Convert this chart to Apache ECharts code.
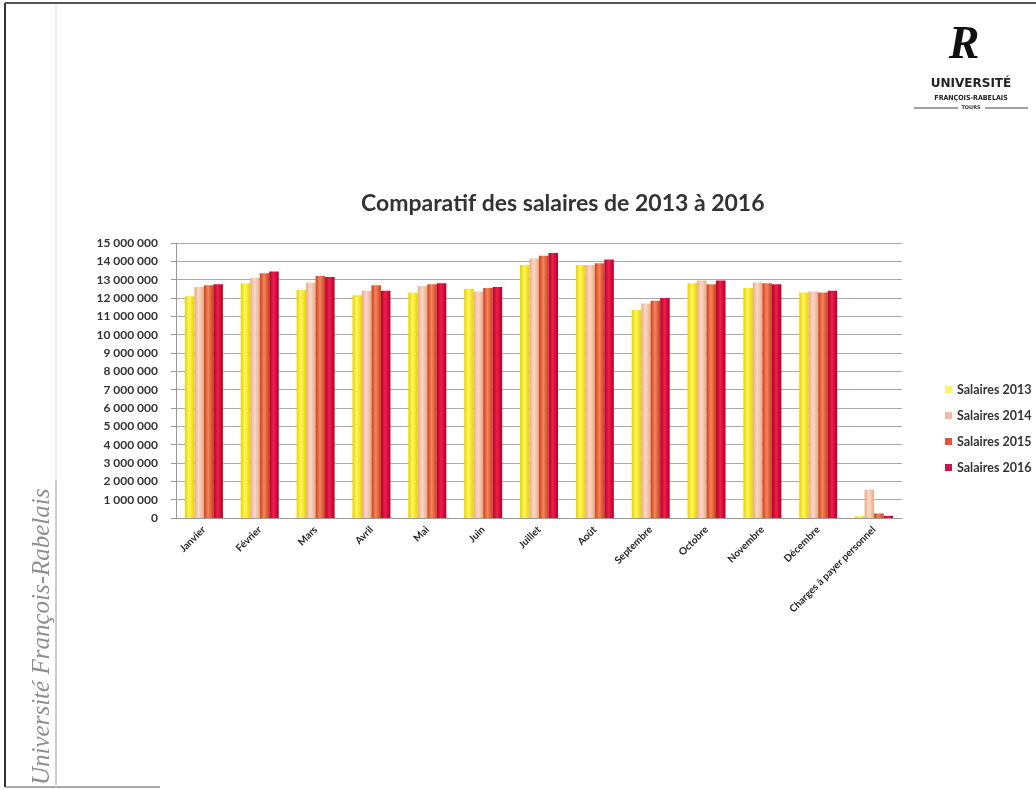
<!DOCTYPE html>
<html>
<head>
<meta charset="utf-8">
<script src="https://cdn.jsdelivr.net/npm/echarts@6/dist/echarts.min.js"></script>
<style>
html,body{margin:0;padding:0;background:#fff;}
#chart{width:1036px;height:790px;}
</style>
</head>
<body>
<div id="chart"></div>
<script>
const categories = ["Janvier","Février","Mars","Avril","Mai","Juin","Juillet","Août","Septembre","Octobre","Novembre","Décembre","Charges à payer personnel"];
const salaires2013 = [12100000,12800000,12450000,12150000,12300000,12500000,13800000,13800000,11350000,12800000,12550000,12300000,100000];
const salaires2014 = [12600000,13100000,12850000,12400000,12650000,12350000,14150000,13800000,11700000,12950000,12850000,12350000,1550000];
const salaires2015 = [12700000,13350000,13200000,12700000,12750000,12550000,14300000,13900000,11850000,12750000,12800000,12300000,250000];
const salaires2016 = [12750000,13450000,13150000,12400000,12800000,12600000,14450000,14100000,12000000,12950000,12750000,12400000,120000];
const seriesNames = ["Salaires 2013","Salaires 2014","Salaires 2015","Salaires 2016"];
const yMin = 0, yMax = 15000000, yStep = 1000000;

const palette = [
  {dark:'#E8D200', light:'#FFF75A', legend:'#FFF36A'},
  {dark:'#E8AA8A', light:'#FDD8C6', legend:'#F2BBA2'},
  {dark:'#C8401C', light:'#F8845C', legend:'#E0553A'},
  {dark:'#B00028', light:'#F01E4E', legend:'#D4104A'}
];
function grad(p){
  return new echarts.graphic.LinearGradient(0,0,1,0,[
    {offset:0,color:p.dark},{offset:0.45,color:p.light},{offset:1,color:p.dark}
  ]);
}
function fmt(v){ return String(v).replace(/\B(?=(\d{3})+(?!\d))/g,' '); }

const dataSets = [salaires2013,salaires2014,salaires2015,salaires2016];
const chart = echarts.init(document.getElementById('chart'), null, {renderer:'canvas'});
chart.setOption({
  backgroundColor:'#fff',
  animation:false,
  title:{
    text:'Comparatif des salaires de 2013 à 2016',
    left:356, top:187,
    textStyle:{fontFamily:'Lato', fontWeight:'bold', fontSize:23, color:'#333'}
  },
  legend:{
    orient:'vertical', left:940, top:378,
    itemWidth:7, itemHeight:7, itemGap:13, icon:'rect',
    textStyle:{fontFamily:'Lato', fontWeight:'bold', fontSize:12.5, color:'#333'},
    data: seriesNames.map((n,i)=>({name:n, itemStyle:{color:palette[i].legend}}))
  },
  grid:{left:176, right:134, top:243, bottom:272},
  xAxis:{
    type:'category', data:categories,
    axisLine:{lineStyle:{color:'#999'}},
    axisTick:{show:false},
    axisLabel:{interval:0, rotate:45, margin:10, fontFamily:'Lato', fontWeight:'bold', fontSize:10, color:'#222'}
  },
  yAxis:{
    type:'value', min:yMin, max:yMax, interval:yStep,
    axisLine:{show:true, lineStyle:{color:'#999'}},
    axisTick:{show:true, length:5, lineStyle:{color:'#999'}},
    splitLine:{lineStyle:{color:'#aaa', width:1}},
    axisLabel:{margin:18, fontFamily:'Lato', fontWeight:'bold', fontSize:12, color:'#333', formatter:fmt}
  },
  series: dataSets.map((d,i)=>({
    name:seriesNames[i], type:'bar', data:d,
    barGap:'0%', barCategoryGap:'32%',
    itemStyle:{color:grad(palette[i])}
  })),
  graphic:[
    {type:'line', shape:{x1:5,y1:3,x2:5,y2:787}, style:{stroke:'#333', lineWidth:2}},
    {type:'line', shape:{x1:5,y1:3,x2:1036,y2:3}, style:{stroke:'#555', lineWidth:2}},
    {type:'line', shape:{x1:5,y1:787,x2:160,y2:787}, style:{stroke:'#555', lineWidth:1}},
    {type:'line', shape:{x1:56,y1:4,x2:56,y2:480}, style:{stroke:'#ddd', lineWidth:1}},
    {type:'line', shape:{x1:56,y1:480,x2:56,y2:785}, style:{stroke:'#999', lineWidth:1}},
    {type:'text', x:42, y:785, rotation:Math.PI/2,
     style:{text:'Université François-Rabelais', fontFamily:'Liberation Serif', fontStyle:'italic', fontSize:25, fill:'#8e8e8e', textAlign:'left', textVerticalAlign:'middle'}},
    {type:'text', x:964, y:46,
     style:{text:'R', fontFamily:'Liberation Serif', fontStyle:'italic', fontWeight:'bold', fontSize:46, fill:'#111', textAlign:'center', textVerticalAlign:'middle'}},
    {type:'text', x:971, y:84,
     style:{text:'UNIVERSITÉ', fontFamily:'DejaVu Sans', fontWeight:'bold', fontSize:12, fill:'#222', textAlign:'center', textVerticalAlign:'middle'}},
    {type:'text', x:971, y:98,
     style:{text:'FRANÇOIS-RABELAIS', fontFamily:'DejaVu Sans Condensed', fontWeight:'bold', fontSize:7, fill:'#222', textAlign:'center', textVerticalAlign:'middle'}},
    {type:'text', x:971, y:108,
     style:{text:'TOURS', fontFamily:'DejaVu Sans', fontWeight:'bold', fontSize:5, fill:'#333', textAlign:'center', textVerticalAlign:'middle'}},
    {type:'line', shape:{x1:914,y1:108,x2:958,y2:108}, style:{stroke:'#444', lineWidth:1}},
    {type:'line', shape:{x1:985,y1:108,x2:1028,y2:108}, style:{stroke:'#444', lineWidth:1}}
  ]
});
</script>
</body>
</html>
